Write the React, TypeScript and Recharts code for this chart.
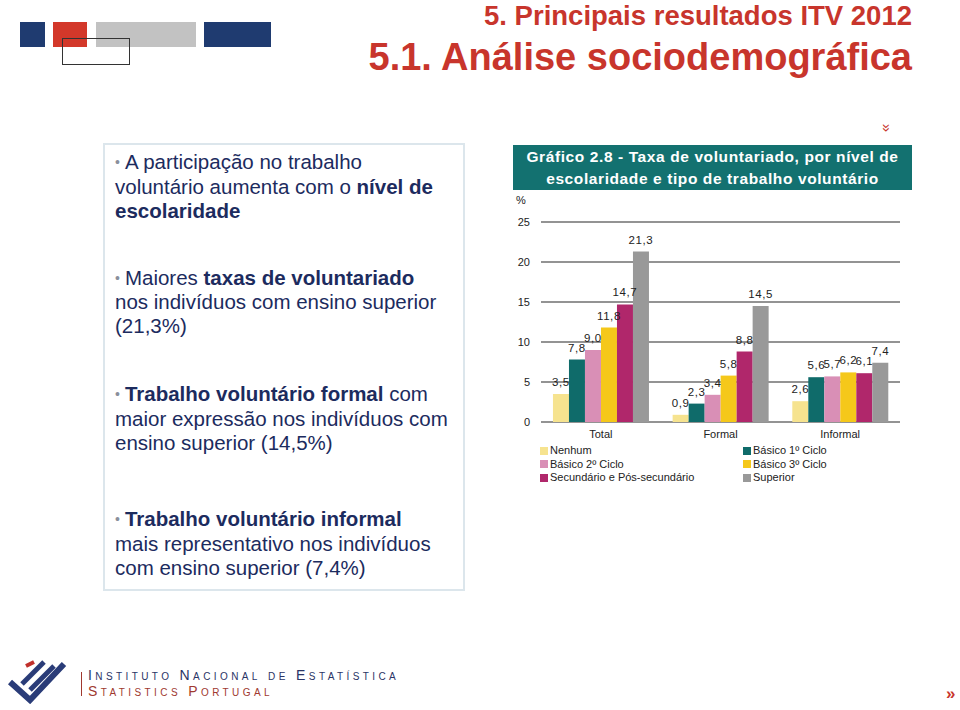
import React from "react";
import {
  BarChart,
  Bar,
  XAxis,
  YAxis,
  CartesianGrid,
  LabelList,
} from "recharts";

// categorias e séries (taxa de voluntariado, %)
const categories = ["Total", "Formal", "Informal"];
const nenhum = [3.5, 0.9, 2.6];
const basico1 = [7.8, 2.3, 5.6];
const basico2 = [9.0, 3.4, 5.7];
const basico3 = [11.8, 5.8, 6.2];
const secundario = [14.7, 8.8, 6.1];
const superior = [21.3, 14.5, 7.4];
const yTicks = [0, 5, 10, 15, 20, 25];

const series = [
  { key: "nenhum", name: "Nenhum", values: nenhum, color: "#F6E38F" },
  { key: "basico1", name: "Básico 1º Ciclo", values: basico1, color: "#0F6B6A" },
  { key: "basico2", name: "Básico 2º Ciclo", values: basico2, color: "#D98FB6" },
  { key: "basico3", name: "Básico 3º Ciclo", values: basico3, color: "#F5C81A" },
  { key: "secundario", name: "Secundário e Pós-secundário", values: secundario, color: "#B0276B" },
  { key: "superior", name: "Superior", values: superior, color: "#999999" },
];

// ordem da legenda (duas colunas)
const legendRows = [
  ["nenhum", "basico1"],
  ["basico2", "basico3"],
  ["secundario", "superior"],
];

const chartData = categories.map((cat, i) => {
  const row: Record<string, string | number> = { cat };
  series.forEach((s) => {
    row[s.key] = s.values[i];
  });
  return row;
});

const FONT = "'Liberation Sans', Arial, Helvetica, sans-serif";
const NAVY = "#1C2B5E";
const RED = "#C8352C";

const fmt = (v: unknown) => Number(v).toFixed(1).replace(".", ",");

function Line({ top, children }: { top: number; children: React.ReactNode }) {
  return (
    <div style={{ position: "absolute", left: 115, top, whiteSpace: "nowrap" }}>
      {children}
    </div>
  );
}

const Dot = () => (
  <span style={{ color: "#8a8f9c", fontSize: 14, marginRight: 5, verticalAlign: 2 }}>•</span>
);

export default function App() {
  const byKey = Object.fromEntries(series.map((s) => [s.key, s]));
  return (
    <div
      style={{
        position: "absolute",
        left: 0,
        top: 0,
        width: 960,
        height: 710,
        background: "#fff",
        fontFamily: FONT,
        overflow: "hidden",
      }}
    >
      {/* blocos do topo */}
      <div style={{ position: "absolute", left: 20, top: 22, width: 25, height: 25, background: "#1F3B70" }} />
      <div style={{ position: "absolute", left: 53, top: 22, width: 34, height: 25, background: "#D3382A" }} />
      <div style={{ position: "absolute", left: 96, top: 22, width: 100, height: 25, background: "#C2C2C2" }} />
      <div style={{ position: "absolute", left: 204, top: 22, width: 67, height: 25, background: "#1F3B70" }} />
      <div style={{ position: "absolute", left: 62, top: 38, width: 66, height: 25, border: "1.5px solid #333" }} />

      {/* títulos */}
      <div
        style={{
          position: "absolute",
          right: 48,
          top: 0,
          color: RED,
          fontWeight: "bold",
          fontSize: 27.5,
          lineHeight: "32px",
          whiteSpace: "nowrap",
        }}
      >
        5. Principais resultados ITV 2012
      </div>
      <div
        style={{
          position: "absolute",
          right: 48,
          top: 35,
          color: RED,
          fontWeight: "bold",
          fontSize: 38,
          lineHeight: "44px",
          whiteSpace: "nowrap",
        }}
      >
        5.1. Análise sociodemográfica
      </div>

      {/* caixa de texto */}
      <div
        style={{
          position: "absolute",
          left: 103,
          top: 143,
          width: 358,
          height: 444,
          border: "2px solid #DCE6EC",
        }}
      />
      <div style={{ position: "absolute", left: 0, top: 0, color: NAVY, fontSize: 20.5, lineHeight: "24px" }}>
        <Line top={150}><Dot />A participação no trabalho</Line>
        <Line top={175}>voluntário aumenta com o <b>nível de</b></Line>
        <Line top={199}><b>escolaridade</b></Line>

        <Line top={266}><Dot />Maiores <b>taxas de voluntariado</b></Line>
        <Line top={290}>nos indivíduos com ensino superior</Line>
        <Line top={314}>(21,3%)</Line>

        <Line top={382}><Dot /><b>Trabalho voluntário formal</b> com</Line>
        <Line top={407}>maior expressão nos indivíduos com</Line>
        <Line top={431}>ensino superior (14,5%)</Line>

        <Line top={507}><Dot /><b>Trabalho voluntário informal</b></Line>
        <Line top={532}>mais representativo nos indivíduos</Line>
        <Line top={556}>com ensino superior (7,4%)</Line>
      </div>

      {/* seta */}
      <div
        style={{
          position: "absolute",
          left: 880,
          top: 120,
          width: 14,
          height: 16,
          color: RED,
          fontSize: 15,
          lineHeight: "16px",
          textAlign: "center",
          transform: "rotate(90deg)",
        }}
      >
        »
      </div>

      {/* título do gráfico */}
      <div
        style={{
          position: "absolute",
          left: 513,
          top: 145,
          width: 399,
          height: 45,
          background: "#137170",
          color: "#fff",
          fontWeight: "bold",
          fontSize: 15.5,
          lineHeight: "22px",
          textAlign: "center",
          letterSpacing: 0.6,
          paddingTop: 1,
          boxSizing: "border-box",
          whiteSpace: "nowrap",
        }}
      >
        Gráfico 2.8 - Taxa de voluntariado, por nível de
        <br />
        escolaridade e tipo de trabalho voluntário
      </div>
      <div style={{ position: "absolute", left: 516, top: 194, fontSize: 11, color: "#222" }}>%</div>

      {/* gráfico */}
      <div style={{ position: "absolute", left: 500, top: 200 }}>
        <BarChart
          width={410}
          height={245}
          data={chartData}
          margin={{ top: 22, right: 10, left: 11, bottom: 0 }}
          barCategoryGap="10%"
          barGap={0}
        >
          <CartesianGrid vertical={false} stroke="#6F6F6F" strokeWidth={1.5} />
          <YAxis
            domain={[0, 25]}
            ticks={yTicks}
            width={30}
            axisLine={false}
            tickLine={false}
            tickMargin={5}
            tick={{ fontSize: 11, fill: "#222", fontFamily: FONT }}
          />
          <XAxis
            xAxisId="edge"
            type="number"
            domain={[0, 3]}
            ticks={[0, 1, 2, 3]}
            allowDataOverflow
            height={0}
            tick={false}
            tickSize={5}
            axisLine={{ stroke: "#000", strokeWidth: 2 }}
            tickLine={{ stroke: "#000", strokeWidth: 2 }}
          />
          <XAxis
            xAxisId="cat"
            dataKey="cat"
            height={23}
            axisLine={false}
            tickLine={false}
            tick={{ fontSize: 11, fill: "#222", fontFamily: FONT }}
          />
          {series.map((s) => (
            <Bar
              key={s.key}
              xAxisId="cat"
              dataKey={s.key}
              name={s.name}
              fill={s.color}
              isAnimationActive={false}
            >
              <LabelList
                dataKey={s.key}
                position="top"
                offset={8}
                formatter={fmt}
                style={{ fontSize: 11.5, fill: "#222", fontFamily: FONT, letterSpacing: 0.6 }}
              />
            </Bar>
          ))}
        </BarChart>
      </div>

      {/* legenda */}
      <div style={{ position: "absolute", left: 540, top: 444, fontSize: 11, color: "#222", lineHeight: "13.5px" }}>
        {legendRows.map((row, ri) => (
          <div key={ri} style={{ display: "flex", height: 13.5 }}>
            {row.map((k, ci) => (
              <div key={k} style={{ display: "flex", alignItems: "center", width: ci === 0 ? 203 : 160 }}>
                <span style={{ width: 8, height: 8, background: byKey[k].color, marginRight: 2, display: "inline-block" }} />
                {byKey[k].name}
              </div>
            ))}
          </div>
        ))}
      </div>

      {/* rodapé */}
      <svg style={{ position: "absolute", left: 6, top: 660 }} width={62} height={44}>
        <path d="M4 22 L24 40 L58 4" fill="none" stroke="#2A3C78" strokeWidth={6} strokeLinejoin="miter" />
        <path d="M16 24 L38 2" fill="none" stroke="#2A3C78" strokeWidth={5} />
        <path d="M24 30 L48 6" fill="none" stroke="#2A3C78" strokeWidth={5} />
        <path d="M20 6 L28 2" fill="none" stroke="#C0302B" strokeWidth={4} />
      </svg>
      <div style={{ position: "absolute", left: 81, top: 672, width: 1, height: 24, background: "#A0392F" }} />
      <div
        style={{
          position: "absolute",
          left: 88,
          top: 667,
          fontSize: 14,
          color: "#2A3466",
          fontVariant: "small-caps",
          letterSpacing: 3.4,
          whiteSpace: "nowrap",
          lineHeight: "16px",
        }}
      >
        Instituto Nacional de Estatística
        <br />
        <span style={{ color: "#A0392F" }}>Statistics Portugal</span>
      </div>
      <div style={{ position: "absolute", left: 946, top: 684, color: RED, fontSize: 17, fontWeight: "bold" }}>»</div>
    </div>
  );
}
